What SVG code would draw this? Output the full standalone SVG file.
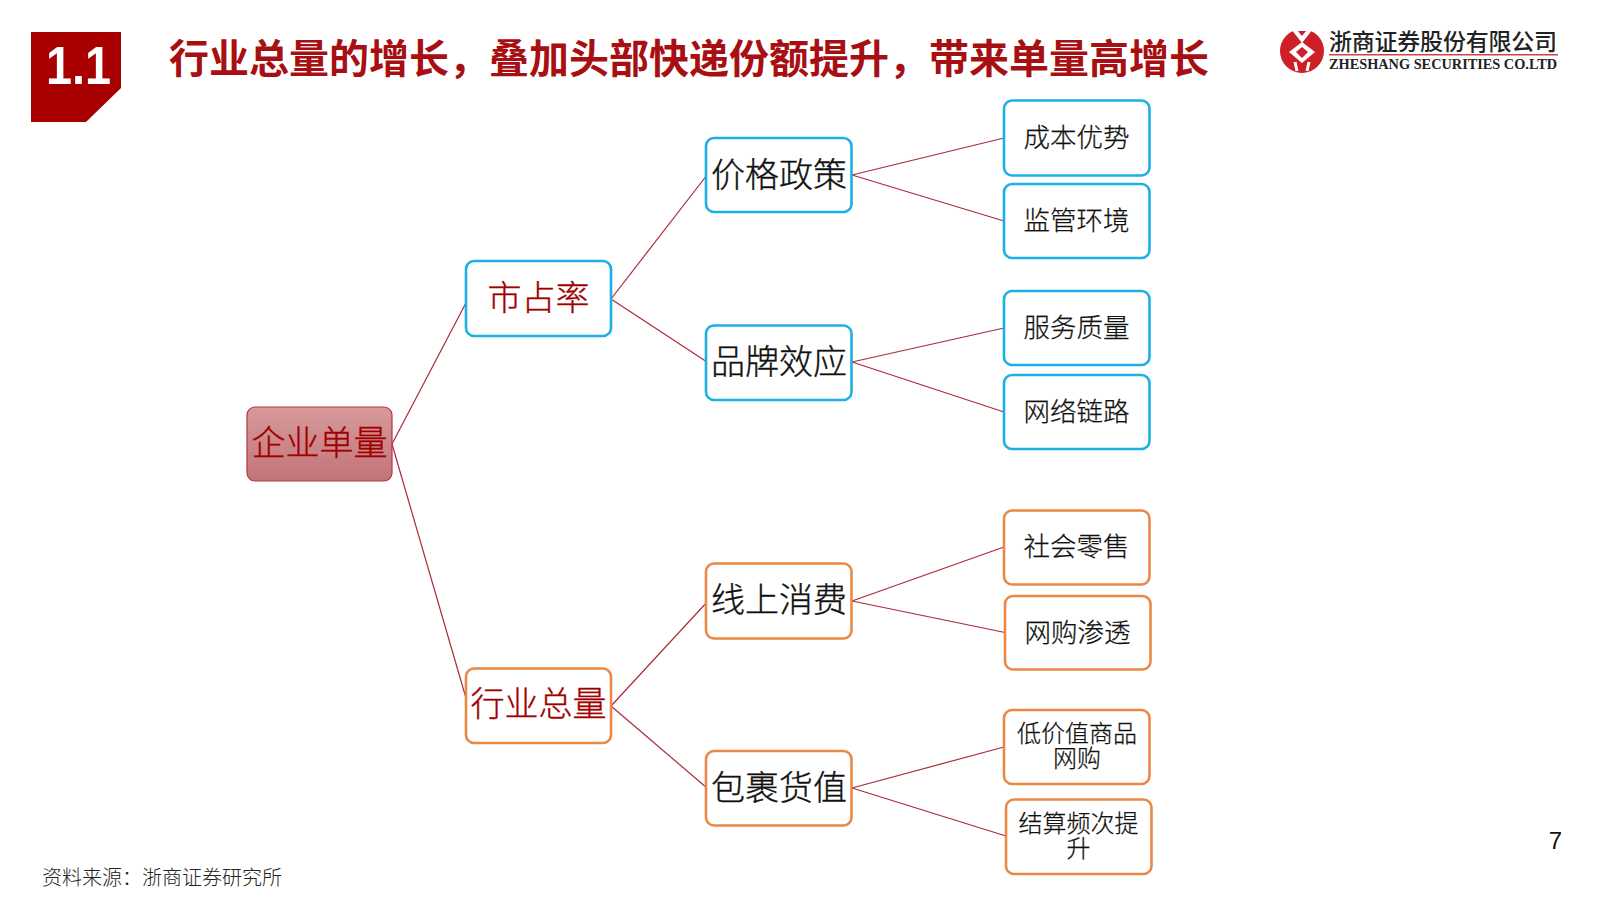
<svg xmlns="http://www.w3.org/2000/svg" width="1600" height="899" viewBox="0 0 1600 899">
<defs>
<linearGradient id="rootFill" x1="0" y1="0" x2="0" y2="1"><stop offset="0" stop-color="#D79A9C"/><stop offset="1" stop-color="#C27478"/></linearGradient>
</defs>
<style>
text{font-family:"Noto Sans CJK SC","Noto Sans",sans-serif;text-anchor:middle;fill:#111}
.box{fill:#fff;stroke-width:2.6}
.blue{stroke:#1CB0E4}
.orange{stroke:#EA8845}
.l2{font-size:34px;fill:#A00000;font-weight:300;stroke:#A00000;stroke-width:.35}
.l3{font-size:34px;font-weight:300;stroke:#111;stroke-width:.35}
.l4{font-size:26.5px;font-weight:300;stroke:#111;stroke-width:.25}
.l5{font-size:24px;font-weight:300;stroke:#111;stroke-width:.25}
#connectors line{stroke:#AC2A38;stroke-width:1.2}
</style>
<rect width="1600" height="899" fill="#fff"/>
<g id="badge"><polygon points="31,32 121,32 121,88 86,122 31,122" fill="#A80000"/>
<text x="78.500" y="84" textLength="65" lengthAdjust="spacingAndGlyphs" style="font-family:'Liberation Sans',sans-serif;font-size:53px;font-weight:700;fill:#fff">1.1</text></g>
<text id="title" x="169" y="73" textLength="1040" style="text-anchor:start;font-size:40px;font-weight:700;fill:#A80F12">行业总量的增长，叠加头部快递份额提升，带来单量高增长</text>
<g id="logo">
<circle cx="1302" cy="51" r="22" fill="#CC1F26"/>
<path d="M1291 29L1313 29L1302 43ZM1302 42L1315 52L1302 63L1289 52Z" fill="#fff"/>
<path d="M1298 31L1306 31L1302 36ZM1302 47L1308 52L1302 58L1296 52Z" fill="#CC1F26"/>
<path d="M1295 62L1297 71M1309 62L1307 71" stroke="#fff" stroke-width="3" fill="none"/>
<text x="1329" y="50" textLength="228" style="text-anchor:start;font-size:23px;font-weight:500;fill:#222">浙商证券股份有限公司</text>
<rect x="1329" y="54" width="229" height="1.5" fill="#C9474B"/>
<text x="1329" y="69" textLength="228" lengthAdjust="spacingAndGlyphs" style="text-anchor:start;font-family:'Liberation Serif',serif;font-size:14.500px;font-weight:700;fill:#222">ZHESHANG SECURITIES CO.LTD</text>
</g>
<g id="connectors">
<line x1="392" y1="444" x2="468" y2="299"/>
<line x1="392" y1="444" x2="468" y2="705"/>
<line x1="611" y1="299" x2="707" y2="175"/>
<line x1="611" y1="299" x2="707" y2="362"/>
<line x1="611" y1="706" x2="708" y2="601"/>
<line x1="611" y1="706" x2="707" y2="788"/>
<line x1="852" y1="175" x2="1004" y2="138"/>
<line x1="852" y1="175" x2="1004" y2="221"/>
<line x1="852" y1="362" x2="1004" y2="328"/>
<line x1="852" y1="362" x2="1004" y2="412"/>
<line x1="852" y1="601" x2="1004" y2="547"/>
<line x1="852" y1="601" x2="1005" y2="632.500"/>
<line x1="852" y1="788" x2="1004" y2="747"/>
<line x1="852" y1="788" x2="1006" y2="836"/>
</g>
<g id="n-root"><rect x="247" y="407" width="145" height="74" rx="8" fill="url(#rootFill)" stroke="#B4343E" stroke-width="1.2"/><text class="l2" x="319.500" y="455">企业单量</text></g>
<g id="n-share"><rect class="box blue" x="466" y="261" width="145" height="75" rx="8"/><text class="l2" x="538.500" y="310">市占率</text></g>
<g id="n-total"><rect class="box orange" x="466" y="668.500" width="145" height="74.500" rx="8"/><text class="l2" x="538.500" y="716">行业总量</text></g>
<g id="n-price"><rect class="box blue" x="706" y="138" width="145.500" height="74" rx="8"/><text class="l3" x="779" y="186.500">价格政策</text></g>
<g id="n-brand"><rect class="box blue" x="706" y="325.500" width="145.500" height="74.500" rx="8"/><text class="l3" x="779" y="374">品牌效应</text></g>
<g id="n-online"><rect class="box orange" x="706" y="563.500" width="145.500" height="75" rx="8"/><text class="l3" x="779" y="612">线上消费</text></g>
<g id="n-parcel"><rect class="box orange" x="706" y="751" width="145.500" height="74.500" rx="8"/><text class="l3" x="779" y="799.500">包裹货值</text></g>
<g id="n-cost"><rect class="box blue" x="1004" y="100.500" width="145.500" height="75" rx="8"/><text class="l4" x="1076.500" y="147">成本优势</text></g>
<g id="n-reg"><rect class="box blue" x="1004" y="184" width="145.500" height="74" rx="8"/><text class="l4" x="1076.500" y="229.500">监管环境</text></g>
<g id="n-service"><rect class="box blue" x="1004" y="291" width="145.500" height="74" rx="8"/><text class="l4" x="1076.500" y="337">服务质量</text></g>
<g id="n-network"><rect class="box blue" x="1004" y="375" width="145.500" height="74" rx="8"/><text class="l4" x="1076.500" y="421">网络链路</text></g>
<g id="n-retail"><rect class="box orange" x="1004" y="510.500" width="145.500" height="74" rx="8"/><text class="l4" x="1076.500" y="556">社会零售</text></g>
<g id="n-pen"><rect class="box orange" x="1005" y="596" width="145.500" height="73.500" rx="8"/><text class="l4" x="1077.500" y="642">网购渗透</text></g>
<g id="n-low"><rect class="box orange" x="1004" y="710" width="145.500" height="74" rx="8"/><text class="l5" x="1077" y="742">低价值商品<tspan x="1077" dy="25">网购</tspan></text></g>
<g id="n-freq"><rect class="box orange" x="1006" y="799.500" width="145.500" height="74.500" rx="8"/><text class="l5" x="1078.500" y="832">结算频次提<tspan x="1078.500" dy="25">升</tspan></text></g>
<text id="page" x="1555.500" y="849" style="font-family:'Liberation Sans',sans-serif;font-size:24px">7</text>
<text id="source" x="42" y="885" style="text-anchor:start;font-size:20px;fill:#222;font-weight:300">资料来源：浙商证券研究所</text>
</svg>
